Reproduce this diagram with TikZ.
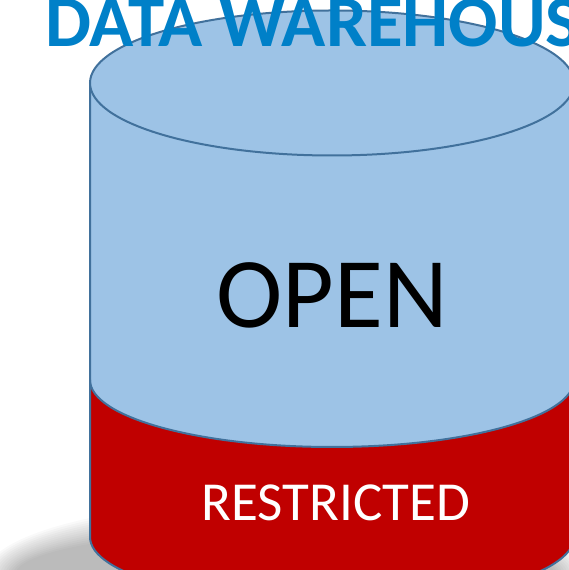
\documentclass[tikz,border=0pt]{standalone}
\usepackage{fontspec}
\setmainfont{Carlito}
\definecolor{cylblue}{RGB}{157,195,230}
\definecolor{cyledge}{RGB}{65,113,156}
\definecolor{cylred}{RGB}{192,0,0}
\definecolor{titleblue}{RGB}{0,128,200}
\begin{document}
\begin{tikzpicture}[x=1pt,y=1pt,
  edge/.style={draw=cyledge,line width=2pt},
  label/.style={inner sep=0pt}]
\useasboundingbox (0,0) rectangle (569,570);
\clip (0,0) rectangle (569,570);
% shadow
\foreach \i in {0,...,12}{
  \fill[black,opacity=0.025] (285,-5) ellipse[x radius={300-2.5*\i}, y radius={75-2.5*\i}];
}
% red part
\fill[cylred] (90,190) -- (90,33) arc[start angle=180,end angle=360,x radius=242,y radius=67]
  -- (574,190) arc[start angle=0,end angle=-180,x radius=242,y radius=67] -- cycle;
% blue body
\fill[cylblue] (90,487) -- (90,190) arc[start angle=180,end angle=360,x radius=242,y radius=67]
  -- (574,487) -- cycle;
% outlines
\draw[edge] (90,487) -- (90,33) arc[start angle=180,end angle=360,x radius=242,y radius=67] -- (574,487);
\draw[edge] (90,190) arc[start angle=180,end angle=360,x radius=242,y radius=67];
\draw[edge,fill=cylblue] (332,487) ellipse[x radius=242,y radius=72.5];
% texts
\node[label,font=\fontsize{100}{100}\selectfont] (open) at (332,275) {OPEN};
\node[label,font=\fontsize{55}{55}\selectfont,text=white] (restr) at (336,67) {RESTRICTED};
\node[label,anchor=base west,font=\fontsize{73}{73}\selectfont\bfseries,text=titleblue] (title) at (45,523) {DATA WAREHOUS};
\end{tikzpicture}
\end{document}
